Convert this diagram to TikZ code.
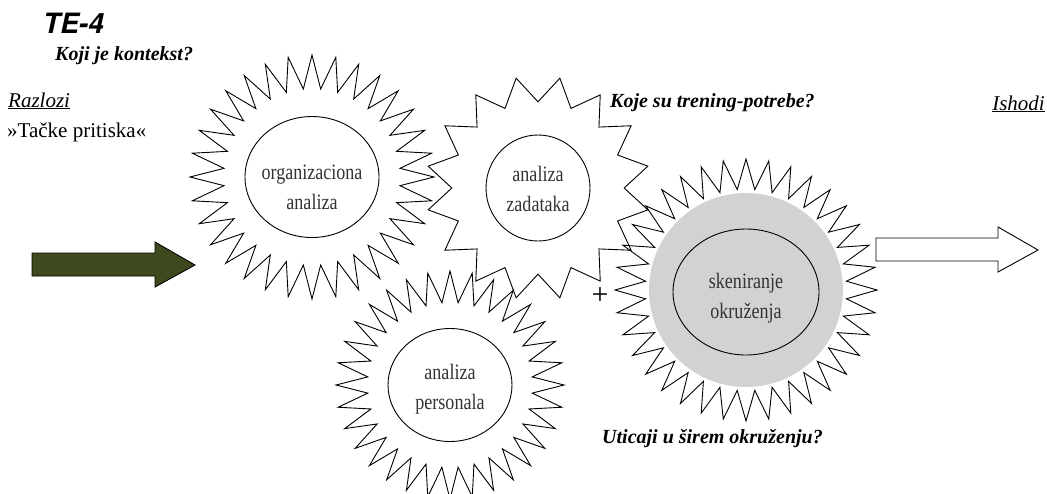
\documentclass[tikz,border=0pt]{standalone}
\usepackage{fontspec}
\setmainfont{Liberation Serif}
\newfontfamily\headfont{TeX Gyre Heros}
\newfontfamily\narrowfont[FakeStretch=0.82]{Liberation Serif}
\usetikzlibrary{shapes.geometric}
\definecolor{olivearrow}{RGB}{62,73,30}
\definecolor{scangray}{RGB}{209,210,212}
\begin{document}
\begin{tikzpicture}[x=1pt, y=-1pt,
	spiky/.style={star, draw=black, line width=0.9pt, inner sep=0pt},
	core/.style={ellipse, draw=black, line width=0.9pt, inner sep=0pt},
	coretext/.style={align=center, inner sep=0pt, text=black!80, font=\narrowfont\fontsize{22}{30}\selectfont},
	question/.style={font=\fontsize{20}{24}\selectfont\bfseries\itshape, inner sep=0pt},
	side/.style={font=\fontsize{21}{24}\selectfont, inner sep=0pt}]
	\useasboundingbox (0,0) rectangle (1047,493);
	% stars
	\node[circle, fill=scangray, minimum size=194pt, inner sep=0pt](disk) at (746,290){};
	\node[spiky, star points=32, star point ratio=1.38, minimum size=244pt](orgstar) at (312,177){};
	\node[spiky, star points=16, star point ratio=1.3, minimum size=224pt, shape border rotate=11.25](zadstar) at (538,188){};
	\node[spiky, star points=36, star point ratio=1.3, minimum size=262pt](scanstar) at (746,290){};
	\node[spiky, star points=32, star point ratio=1.38, minimum size=228pt](perstar) at (450,385){};
	% inner circles
	\node[core, minimum width=134pt, minimum height=121pt](org) at (312,177){};
	\node[core, minimum width=104pt, minimum height=106pt](zad) at (538,188){};
	\node[core, minimum width=146pt, minimum height=126pt](scan) at (746,292){};
	\node[core, minimum width=124pt, minimum height=113pt](per) at (450,385){};
	\node[coretext](orgtext) at (312,187){organizaciona\\analiza};
	\node[coretext](zadtext) at (538,189){analiza\\zadataka};
	\node[coretext](scantext) at (746,298){skeniranje\\okruženja};
	\node[coretext](pertext) at (450,389){analiza\\personala};
	% arrows
	\draw[fill=olivearrow, line width=0.9pt] (32,253) -- (155,253) -- (155,242) -- (195,265) -- (155,287) -- (155,276) -- (32,276) -- cycle;
	\draw[fill=white, line width=0.9pt] (876,238) -- (998,238) -- (998,227) -- (1038,250) -- (998,272) -- (998,261) -- (876,261) -- cycle;
	% texts
	\node[anchor=base west, inner sep=0pt, font=\fontsize{28}{30}\selectfont\headfont\bfseries\itshape](title) at (43,33){TE-4};
	\node[question, anchor=base west](context) at (55,60){Koji je kontekst?};
	\node[side, anchor=base west](reasons) at (8,107){\underline{\textit{Razlozi}}};
	\node[side, anchor=base west](pressure) at (7,137){»Tačke pritiska«};
	\node[question, anchor=base west](needs) at (610,107){Koje su trening-potrebe?};
	\node[side, anchor=base east](outcomes) at (1045,110){\underline{\textit{Ishodi}}};
	\node[side, font=\fontsize{30}{30}\selectfont](plus) at (600,296){+};
	\node[question, anchor=base west](influence) at (602,443){Uticaji u širem okruženju?};
\end{tikzpicture}
\end{document}
